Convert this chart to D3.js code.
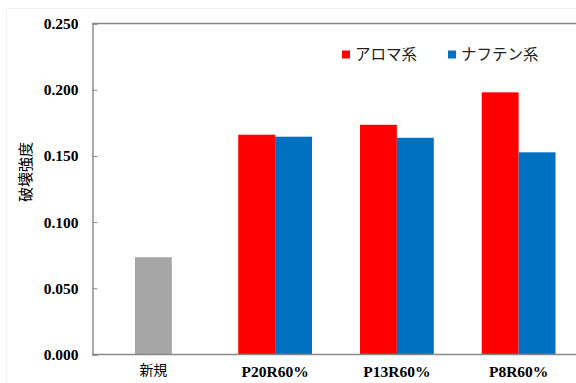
<!DOCTYPE html>
<html>
<head>
<meta charset="utf-8">
<script src="https://cdn.jsdelivr.net/npm/d3@7"></script>
<style>
  html, body { margin: 0; padding: 0; background: #fff; }
  svg { display: block; }
</style>
</head>
<body>
<svg id="chart" width="576" height="383"></svg>
<script>
// Breaking strength by sample
const categories = ["新規", "P20R60%", "P13R60%", "P8R60%"];
const seriesNames = ["アロマ系", "ナフテン系"];
const seriesColors = ["#ff0000", "#0070c0"];
const baselineValue = [0.0735];        // 新規 (single grey bar)
const aromaValues = [null, 0.166, 0.1735, 0.198];
const naphtheneValues = [null, 0.1645, 0.1637, 0.1527];
const yTicks = [0, 0.05, 0.1, 0.15, 0.2, 0.25];

const svg = d3.select("#chart");
const W = 576, H = 383;
const plotLeft = 92.5, plotTop = 23.5, plotBottom = 354.5;
const plotRight = 579.5; // plot runs past the right edge of the page
const serif = "'Liberation Serif', 'Times New Roman', serif";
const jp = "'Noto Sans CJK JP', sans-serif";

// faint outer frame
svg.append("rect").attr("x", 6.5).attr("y", 8.5).attr("width", W).attr("height", H)
  .attr("fill", "none").attr("stroke", "#f0f0f0");

const x = d3.scaleBand().domain(categories).range([plotLeft, plotRight]).paddingInner(0).paddingOuter(0);
const y = d3.scaleLinear().domain([0, 0.25]).range([plotBottom, plotTop]);
const barW = x.bandwidth() * 0.303;

// top frame line
svg.append("line").attr("x1", plotLeft).attr("x2", W).attr("y1", plotTop).attr("y2", plotTop)
  .attr("stroke", "#888").attr("stroke-width", 1.4);

// bars
const g = svg.append("g");
g.append("rect")
  .attr("x", x(categories[0]) + x.bandwidth() / 2 - barW / 2)
  .attr("y", y(baselineValue[0]))
  .attr("width", barW)
  .attr("height", y(0) - y(baselineValue[0]))
  .attr("fill", "#a6a6a6");

[aromaValues, naphtheneValues].forEach((vals, si) => {
  categories.forEach((c, i) => {
    const v = vals[i];
    if (v == null) return;
    const cx = x(c) + x.bandwidth() / 2;
    g.append("rect")
      .attr("x", si === 0 ? cx - barW : cx)
      .attr("y", y(v))
      .attr("width", barW)
      .attr("height", y(0) - y(v))
      .attr("fill", seriesColors[si]);
  });
});

// y axis
const yAxis = d3.axisLeft(y).tickValues(yTicks).tickFormat(d3.format(".3f")).tickSize(-5).tickPadding(14);
const ya = svg.append("g").attr("transform", `translate(${plotLeft},0)`).call(yAxis);
ya.select(".domain").attr("stroke", "#888").attr("stroke-width", 1.4);
ya.selectAll(".tick line").attr("stroke", "#888");
ya.selectAll(".tick text")
  .attr("font-family", serif)
  .attr("font-weight", "bold").attr("font-size", 15.5).attr("fill", "#000");

// x axis
const xAxis = d3.axisBottom(x).tickSize(0).tickPadding(11);
const xa = svg.append("g").attr("transform", `translate(0,${plotBottom})`).call(xAxis);
xa.select(".domain").remove();
svg.append("line").attr("x1", plotLeft).attr("x2", W).attr("y1", plotBottom).attr("y2", plotBottom)
  .attr("stroke", "#888").attr("stroke-width", 1.4);
xa.selectAll(".tick text")
  .attr("font-family", d => d === "新規" ? jp : serif)
  .attr("font-weight", d => d === "新規" ? "normal" : "bold")
  .attr("font-size", d => d === "新規" ? 14 : 15.5).attr("fill", "#000");

// y title
svg.append("text")
  .attr("transform", `translate(31,172) rotate(-90)`)
  .attr("text-anchor", "middle")
  .attr("font-family", jp)
  .attr("font-size", 15).attr("fill", "#000")
  .text("破壊強度");

// legend
const legX = [342, 448];
seriesNames.forEach((n, i) => {
  svg.append("rect").attr("x", legX[i]).attr("y", 50.5).attr("width", 8).attr("height", 8)
    .attr("fill", seriesColors[i]);
  svg.append("text").attr("x", legX[i] + 13).attr("y", 60)
    .attr("font-family", jp)
    .attr("font-size", 15.5).attr("fill", "#222")
    .text(n);
});
</script>
</body>
</html>
